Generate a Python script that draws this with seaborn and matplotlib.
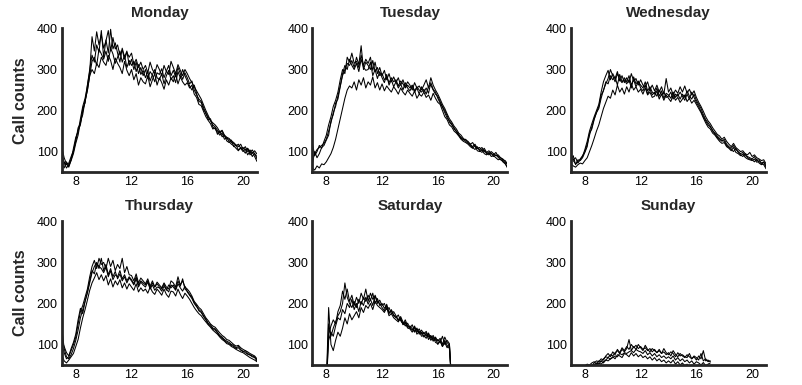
import numpy as np
import pandas as pd
import matplotlib.pyplot as plt
import seaborn as sns

# sampling grid: every 10 minutes
weekday_hours = np.linspace(7, 21, 85)
weekend_hours = np.linspace(8, 17, 55)

# call counts per 10-minute slot, one list per week
monday = [
    [95, 72, 60, 68, 82, 100, 128, 152, 165, 205, 218, 262, 300, 335, 318, 360, 342, 395,
     330, 372, 340, 398, 350, 365, 340, 318, 352, 330, 345, 310, 325, 300, 318, 290, 305, 285,
     300, 278, 295, 286, 270, 292, 288, 302, 280, 296, 310, 285, 298, 282, 305, 290, 276, 292,
     280, 265, 272, 250, 238, 228, 222, 208, 192, 184, 175, 165, 160, 152, 145, 150, 138, 132,
     130, 122, 120, 114, 118, 108, 110, 104, 108, 98, 104, 94, 88],
    [70, 60, 75, 65, 78, 95, 120, 140, 172, 190, 225, 248, 285, 300, 290, 315, 305, 330,
     318, 310, 335, 322, 300, 328, 315, 305, 290, 320, 298, 285, 300, 275, 290, 262, 280, 270,
     265, 285, 258, 275, 290, 262, 280, 268, 252, 275, 262, 280, 270, 290, 265, 282, 270, 262,
     268, 255, 262, 240, 232, 215, 212, 198, 185, 176, 168, 155, 158, 142, 150, 136, 140, 126,
     122, 128, 112, 116, 104, 108, 100, 106, 92, 100, 88, 96, 82],
    [110, 85, 70, 62, 80, 108, 135, 148, 180, 210, 230, 260, 295, 380, 345, 392, 360, 385,
     352, 370, 395, 345, 378, 350, 360, 335, 348, 325, 342, 330, 340, 312, 325, 305, 318, 300,
     310, 292, 318, 300, 290, 312, 300, 285, 310, 295, 288, 320, 305, 290, 312, 298, 285, 300,
     290, 278, 268, 258, 248, 238, 228, 214, 200, 188, 176, 170, 165, 158, 148, 152, 140, 135,
     132, 126, 122, 116, 112, 118, 106, 112, 100, 104, 96, 102, 94],
    [60, 75, 68, 72, 88, 102, 125, 158, 168, 198, 222, 250, 285, 320, 330, 310, 350, 338,
     325, 345, 320, 352, 338, 315, 330, 345, 318, 335, 305, 322, 310, 320, 295, 312, 288, 298,
     280, 295, 272, 288, 300, 280, 275, 290, 265, 285, 298, 275, 285, 268, 295, 280, 300, 285,
     272, 260, 250, 262, 242, 222, 220, 202, 195, 178, 180, 160, 155, 148, 140, 145, 130, 134,
     124, 118, 114, 108, 102, 110, 104, 96, 108, 92, 98, 88, 76],
]

tuesday = [
    [80, 95, 105, 110, 115, 120, 130, 150, 170, 195, 210, 235, 260, 285, 300, 315, 310, 322,
     305, 330, 312, 358, 300, 318, 310, 300, 322, 295, 305, 285, 290, 275, 282, 268, 280, 270,
     275, 260, 272, 265, 255, 262, 255, 262, 248, 258, 250, 245, 252, 240, 258, 262, 250, 240,
     235, 222, 210, 200, 188, 172, 165, 158, 148, 140, 135, 128, 130, 122, 118, 112, 118, 108,
     105, 110, 100, 98, 102, 95, 92, 98, 88, 85, 80, 78, 70],
    [60, 55, 65, 60, 70, 68, 75, 85, 95, 110, 130, 155, 180, 205, 230, 250, 260, 255,
     270, 250, 275, 262, 280, 255, 270, 262, 282, 255, 268, 250, 265, 248, 260, 252, 245, 258,
     250, 240, 255, 245, 238, 250, 242, 235, 248, 230, 240, 235, 245, 232, 238, 225, 242, 230,
     220, 215, 200, 185, 178, 165, 160, 150, 145, 138, 130, 125, 122, 118, 112, 108, 115, 102,
     100, 105, 95, 92, 98, 88, 90, 85, 80, 82, 75, 70, 62],
    [120, 90, 100, 115, 108, 125, 140, 165, 185, 210, 225, 245, 275, 300, 290, 330, 318, 340,
     315, 320, 305, 335, 310, 325, 315, 330, 298, 318, 290, 305, 285, 298, 275, 290, 270, 282,
     268, 280, 262, 275, 258, 270, 262, 250, 268, 255, 260, 250, 262, 275, 255, 280, 262, 250,
     240, 228, 215, 205, 192, 180, 172, 162, 155, 145, 140, 132, 128, 125, 118, 122, 112, 108,
     110, 102, 108, 98, 95, 100, 95, 90, 92, 85, 82, 75, 68],
    [70, 100, 85, 95, 110, 115, 128, 140, 175, 190, 218, 228, 258, 290, 310, 300, 325, 310,
     300, 315, 295, 325, 305, 298, 300, 318, 285, 300, 278, 295, 280, 268, 288, 262, 275, 258,
     270, 255, 265, 250, 268, 255, 248, 260, 245, 255, 240, 258, 245, 255, 242, 268, 252, 245,
     230, 218, 208, 195, 182, 175, 168, 155, 150, 142, 132, 130, 125, 120, 115, 110, 105, 112,
     102, 98, 104, 95, 92, 96, 88, 92, 86, 80, 78, 72, 60],
]

wednesday = [
    [85, 78, 70, 75, 82, 90, 100, 118, 140, 160, 180, 195, 205, 230, 250, 265, 278, 300,
     285, 270, 290, 275, 268, 280, 270, 285, 262, 275, 258, 270, 262, 255, 270, 248, 258, 245,
     240, 255, 235, 248, 230, 242, 238, 230, 245, 232, 240, 228, 240, 232, 248, 235, 228, 240,
     225, 215, 205, 190, 178, 170, 162, 150, 145, 138, 132, 125, 130, 118, 112, 108, 115, 105,
     100, 95, 98, 90, 88, 85, 82, 88, 78, 80, 72, 75, 65],
    [70, 65, 62, 68, 72, 70, 78, 85, 100, 115, 132, 150, 165, 185, 205, 220, 235, 230,
     250, 238, 262, 245, 255, 240, 258, 245, 265, 250, 258, 245, 252, 240, 255, 238, 245, 232,
     235, 248, 228, 240, 225, 238, 230, 222, 238, 225, 232, 220, 228, 238, 222, 230, 218, 225,
     215, 205, 195, 182, 170, 160, 155, 145, 140, 132, 125, 120, 122, 112, 108, 102, 110, 98,
     95, 90, 94, 86, 82, 80, 78, 82, 74, 76, 70, 68, 58],
    [95, 80, 85, 72, 80, 88, 105, 125, 150, 168, 185, 200, 215, 245, 270, 285, 298, 275,
     290, 278, 295, 272, 285, 268, 280, 268, 290, 272, 278, 262, 275, 262, 258, 270, 250, 262,
     248, 262, 245, 258, 240, 278, 245, 255, 238, 250, 242, 258, 245, 260, 242, 252, 238, 248,
     232, 220, 210, 198, 185, 175, 168, 158, 150, 142, 138, 130, 135, 125, 118, 112, 120, 110,
     105, 100, 102, 95, 92, 98, 88, 92, 85, 82, 78, 80, 70],
    [75, 90, 68, 80, 78, 85, 98, 112, 145, 155, 178, 195, 210, 238, 248, 270, 265, 285,
     275, 282, 262, 288, 270, 275, 265, 275, 255, 282, 265, 272, 255, 248, 262, 240, 252, 238,
     245, 235, 250, 238, 245, 232, 235, 245, 228, 240, 235, 245, 235, 225, 240, 228, 245, 232,
     220, 210, 198, 185, 175, 165, 160, 152, 142, 135, 128, 128, 125, 115, 110, 105, 100, 108,
     98, 92, 88, 95, 85, 82, 80, 75, 82, 72, 68, 74, 62],
]

thursday = [
    [140, 90, 70, 65, 75, 90, 110, 135, 165, 185, 205, 225, 250, 275, 290, 300, 285, 310,
     280, 295, 270, 285, 265, 278, 260, 272, 255, 265, 250, 262, 255, 245, 260, 240, 252, 245,
     240, 252, 235, 245, 232, 240, 238, 230, 242, 235, 228, 245, 240, 232, 248, 238, 230, 242,
     228, 220, 212, 200, 192, 185, 180, 170, 162, 152, 148, 140, 138, 130, 122, 118, 112, 108,
     105, 100, 98, 92, 95, 88, 82, 85, 78, 75, 72, 70, 62],
    [100, 80, 65, 70, 85, 100, 118, 150, 180, 195, 215, 235, 265, 290, 305, 285, 310, 295,
     300, 285, 310, 290, 305, 280, 295, 285, 310, 275, 290, 270, 268, 255, 272, 250, 262, 255,
     248, 260, 242, 255, 240, 252, 245, 238, 250, 240, 235, 255, 250, 240, 265, 245, 255, 240,
     235, 228, 218, 205, 198, 190, 185, 175, 165, 158, 150, 145, 142, 135, 128, 122, 118, 112,
     110, 105, 100, 96, 98, 92, 88, 85, 82, 78, 75, 72, 65],
    [75, 60, 55, 62, 70, 78, 95, 112, 140, 165, 185, 208, 232, 250, 262, 275, 258, 270,
     255, 268, 245, 260, 240, 255, 245, 258, 238, 250, 235, 248, 240, 232, 248, 228, 238, 230,
     235, 225, 240, 228, 222, 235, 228, 220, 235, 222, 215, 230, 228, 218, 235, 222, 212, 225,
     218, 210, 200, 190, 182, 175, 170, 162, 155, 148, 142, 135, 130, 125, 118, 112, 108, 102,
     100, 95, 92, 88, 85, 82, 80, 76, 72, 68, 65, 62, 58],
    [110, 95, 80, 72, 90, 105, 125, 160, 188, 175, 205, 228, 255, 280, 272, 298, 290, 285,
     275, 288, 265, 280, 258, 270, 265, 280, 260, 270, 255, 265, 258, 248, 265, 245, 255, 250,
     245, 255, 238, 250, 240, 248, 240, 235, 248, 232, 245, 238, 245, 235, 255, 242, 260, 235,
     230, 222, 215, 202, 195, 182, 178, 168, 160, 150, 145, 138, 135, 128, 120, 115, 110, 105,
     102, 98, 95, 90, 92, 86, 84, 80, 76, 74, 70, 68, 60],
]

saturday = [
    [0, 150, 120, 140, 155, 170, 180, 200, 250, 215, 200, 190, 205, 190, 210, 198, 215, 205,
     220, 208, 225, 200, 212, 195, 200, 188, 195, 178, 182, 170, 165, 172, 158, 150, 160, 145,
     140, 148, 132, 138, 128, 135, 125, 132, 118, 122, 112, 118, 108, 115, 100, 118, 105, 98, 0],
    [0, 190, 100, 85, 110, 130, 120, 140, 165, 150, 175, 160, 170, 180, 165, 190, 178, 195,
     188, 200, 185, 205, 195, 190, 185, 178, 190, 170, 175, 165, 160, 155, 165, 148, 152, 140,
     138, 130, 142, 125, 132, 120, 122, 115, 125, 110, 118, 105, 102, 110, 95, 105, 92, 100, 0],
    [0, 125, 145, 160, 150, 180, 195, 230, 210, 235, 205, 220, 195, 215, 200, 225, 210, 235,
     205, 225, 210, 218, 200, 208, 195, 200, 185, 190, 175, 180, 170, 160, 168, 155, 145, 152,
     140, 135, 145, 130, 138, 125, 130, 120, 128, 115, 122, 110, 112, 105, 120, 100, 110, 102, 0],
    [0, 110, 130, 120, 145, 165, 160, 185, 175, 200, 190, 210, 185, 200, 180, 205, 195, 215,
     198, 210, 195, 220, 205, 200, 190, 182, 198, 175, 185, 172, 168, 158, 162, 150, 155, 142,
     145, 138, 130, 140, 125, 130, 118, 128, 112, 120, 108, 115, 100, 108, 95, 110, 98, 90, 0],
]

sunday = [
    [48, 52, 50, 55, 58, 52, 60, 58, 65, 70, 68, 75, 72, 80, 85, 78, 88, 82,
     90, 112, 85, 95, 88, 100, 92, 85, 98, 88, 82, 90, 85, 80, 88, 78, 82, 75,
     80, 72, 85, 76, 70, 78, 72, 68, 75, 70, 65, 72, 68, 62, 78, 60, 65, 58, 60],
    [40, 45, 48, 45, 52, 50, 55, 52, 58, 62, 60, 65, 68, 72, 70, 78, 75, 80,
     78, 82, 85, 80, 88, 84, 82, 78, 85, 75, 80, 72, 78, 70, 75, 68, 72, 66,
     70, 65, 72, 62, 68, 60, 65, 58, 62, 55, 60, 52, 58, 55, 50, 56, 48, 52, 55],
    [45, 50, 42, 48, 55, 60, 58, 65, 62, 72, 78, 70, 82, 75, 88, 80, 92, 85,
     95, 88, 100, 92, 98, 90, 95, 88, 92, 85, 90, 82, 88, 80, 85, 78, 90, 80,
     75, 82, 78, 70, 80, 72, 75, 70, 68, 78, 65, 70, 62, 72, 65, 85, 60, 62, 58],
    [42, 46, 44, 50, 48, 55, 52, 60, 55, 62, 68, 64, 70, 65, 75, 72, 68, 78,
     75, 70, 80, 72, 78, 70, 75, 68, 72, 65, 70, 62, 68, 60, 65, 58, 62, 55,
     60, 55, 62, 52, 58, 50, 55, 48, 52, 45, 50, 48, 45, 50, 42, 48, 44, 50, 46],
]

panels = [
    ("Monday", weekday_hours, monday),
    ("Tuesday", weekday_hours, tuesday),
    ("Wednesday", weekday_hours, wednesday),
    ("Thursday", weekday_hours, thursday),
    ("Saturday", weekend_hours, saturday),
    ("Sunday", weekend_hours, sunday),
]


def to_frame(hours, lines):
    parts = []
    for k, line in enumerate(lines):
        parts.append(pd.DataFrame({"hour": hours, "calls": line, "week": k}))
    return pd.concat(parts, ignore_index=True)


sns.set_style("white")
plt.rcParams["font.family"] = ["Liberation Sans", "DejaVu Sans"]

fig = plt.figure(figsize=(8.03, 3.85), dpi=100)
lefts = [0.077, 0.389, 0.711]
bottoms = [0.553, 0.052]

for i, (name, hours, lines) in enumerate(panels):
    ax = fig.add_axes([lefts[i % 3], bottoms[i // 3], 0.243, 0.373])
    sns.lineplot(data=to_frame(hours, lines), x="hour", y="calls", units="week",
                 estimator=None, color="black", linewidth=0.75, ax=ax, legend=False)
    ax.set_xlim(7, 21)
    ax.set_ylim(50, 400)
    ax.set_xticks([8, 12, 16, 20])
    ax.set_yticks([100, 200, 300, 400])
    sns.despine(ax=ax)
    ax.spines["left"].set_linewidth(2)
    ax.spines["bottom"].set_linewidth(2)
    ax.tick_params(direction="in", length=1.5, width=1, labelsize=9, pad=3, colors="black")
    ax.set_title(name, fontsize=11, fontweight="bold", pad=8)
    ax.set_xlabel("")
    if i % 3 == 0:
        ax.set_ylabel("Call counts", fontsize=11.5, fontweight="bold", labelpad=6)
    else:
        ax.set_ylabel("")

fig.savefig("out.png", dpi=100)
